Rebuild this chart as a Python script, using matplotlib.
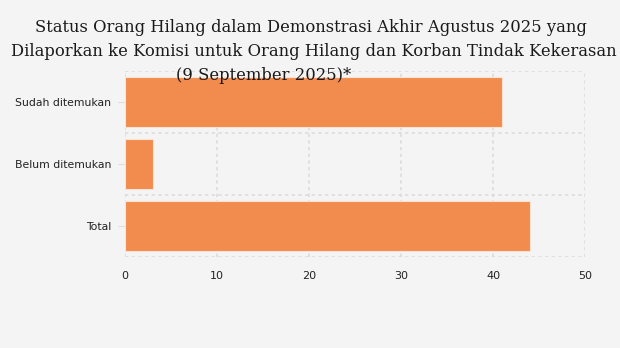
import numpy as np
import matplotlib
matplotlib.use("Agg")
import matplotlib.pyplot as plt

categories = ["Sudah ditemukan", "Belum ditemukan", "Total"]
values = [41, 3, 44]
xticks = [0, 10, 20, 30, 40, 50]
title_lines = ["Status Orang Hilang dalam Demonstrasi Akhir Agustus 2025 yang",
               "Dilaporkan ke Komisi untuk Orang Hilang dan Korban Tindak Kekerasan",
               "(9 September 2025)*"]

BG = "#f4f4f4"
fig = plt.figure(figsize=(6.2, 3.48), dpi=100, facecolor=BG)
ax = fig.add_axes([125 / 620, 1 - 257 / 348, 460 / 620, 186 / 348], facecolor=BG)

y = np.arange(len(categories))
ax.barh(y, values, height=0.82, color="#f28b4e", edgecolor="#fbe3d3", linewidth=0.8, zorder=2)
ax.set_ylim(len(categories) - 0.5, -0.5)
ax.set_xlim(0, 50)
ax.set_yticks(y)
ax.set_yticklabels(categories, fontsize=7.85, color="#222222")
ax.set_yticks(np.arange(-0.5, len(categories)), minor=True)
ax.set_xticks(xticks)
ax.set_xticklabels([str(t) for t in xticks], fontsize=8, color="#222222")
ax.tick_params(axis="y", which="major", length=5, color="#dddddd", pad=5)
ax.tick_params(axis="y", which="minor", length=0)
ax.tick_params(axis="x", length=0, pad=10)
for s in ax.spines.values():
    s.set_visible(False)
grid_kw = dict(color="#dcdcdc", linestyle=(0, (2, 2)), linewidth=1.2, zorder=0)
ax.grid(True, axis="x", which="major", **grid_kw)
ax.grid(True, axis="y", which="minor", **grid_kw)
ax.grid(False, axis="y", which="major")
ax.set_axisbelow(True)

centers = [(311, 28), (314, 52), (264, 76)]
for line, (cx, cy) in zip(title_lines, centers):
    fig.text(cx / 620, 1 - cy / 348, line, ha="center", va="center",
             fontsize=11.8, family="DejaVu Serif", color="#1a1a1a")

fig.savefig("out.png", dpi=100, facecolor=BG)
